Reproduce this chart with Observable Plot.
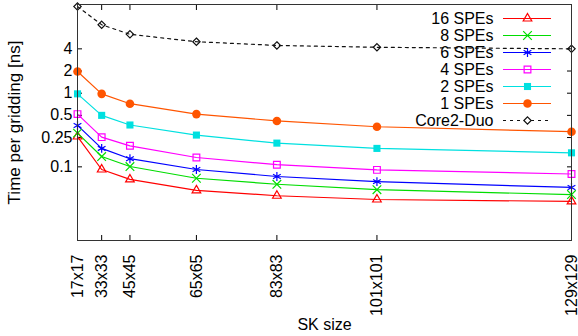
<!DOCTYPE html>
<html><head><meta charset="utf-8">
<script src="https://cdn.jsdelivr.net/npm/d3@7"></script>
<script src="https://cdn.jsdelivr.net/npm/@observablehq/plot@0.6"></script>
<style>
html,body{margin:0;padding:0;background:#fff;}
#wrap{position:relative;width:578px;height:336px;}
#legend{position:absolute;left:400px;top:0;}
</style></head><body><div id="wrap"><div id="main"></div><div id="legend"></div></div>
<script>
// ---- data ----
const sizes = [17, 33, 45, 65, 83, 101, 129];
const seriesNames = ["16 SPEs", "8 SPEs", "6 SPEs", "4 SPEs", "2 SPEs", "1 SPEs", "Core2-Duo"];
const spe16 = [0.258, 0.092, 0.0675, 0.048, 0.0405, 0.036, 0.034];
const spe8  = [0.287, 0.138, 0.101, 0.070, 0.058, 0.049, 0.042];
const spe6  = [0.365, 0.178, 0.129, 0.092, 0.074, 0.063, 0.0525];
const spe4  = [0.52, 0.253, 0.193, 0.134, 0.107, 0.091, 0.080];
const spe2  = [0.98, 0.50, 0.37, 0.27, 0.21, 0.178, 0.155];
const spe1  = [1.97, 0.98, 0.72, 0.52, 0.42, 0.35, 0.30];
const core2 = [15.0, 8.5, 6.3, 5.0, 4.45, 4.2, 4.0];
const yTicks = [0.1, 0.25, 0.5, 1, 2, 4];
const yTickLabels = ["0.1", "0.25", "0.5", "1", "2", "4"];

// ---- styles ----
const seriesValues = [spe16, spe8, spe6, spe4, spe2, spe1, core2];
const styles = [
  {color: "#ff0000", symbol: "triangle", r: 3.2, filled: false},
  {color: "#00dd00", symbol: "times", r: 4, filled: false},
  {color: "#0000ff", symbol: "asterisk", r: 4.2, filled: false},
  {color: "#ff00ff", symbol: "square", r: 3.8, filled: false},
  {color: "#00e0e0", symbol: "square", r: 4, filled: true},
  {color: "#ff5500", symbol: "circle", r: 4.3, filled: true},
  {color: "#111111", symbol: "diamond2", r: 3.3, filled: false, dash: "3,4"}
];
const font = "'Liberation Sans', Arial, Helvetica, sans-serif";

const rows = [];
seriesNames.forEach((name, i) => sizes.forEach((s, j) => rows.push({series: name, size: s, value: seriesValues[i][j]})));

const marks = [];
seriesNames.forEach((name, i) => {
  const st = styles[i];
  const d = rows.filter(r => r.series === name);
  marks.push(Plot.line(d, {x: "size", y: "value", stroke: st.color, strokeWidth: 1.2, strokeDasharray: st.dash}));
});
seriesNames.forEach((name, i) => {
  const st = styles[i];
  const d = rows.filter(r => r.series === name);
  marks.push(Plot.dot(d, {x: "size", y: "value", symbol: st.symbol, r: st.r,
    stroke: st.filled ? "none" : st.color, fill: st.filled ? st.color : "none", strokeWidth: 1.2}));
});

const main = Plot.plot({
  width: 578, height: 336,
  marginLeft: 77, marginRight: 7, marginTop: 4, marginBottom: 96,
  style: {fontFamily: font, fontSize: "16px", color: "#000", background: "#fff"},
  x: {type: "pow", exponent: 2, domain: [17, 129]},
  y: {type: "log", domain: [0.01, 16]},
  marks: [
    Plot.axisX({anchor: "bottom", ticks: sizes, tickSize: 0, tickPadding: 14, tickRotate: -90,
      tickFormat: d => `${d}x${d}`, label: "SK size", labelAnchor: "center", labelOffset: 89, labelArrow: "none"}),
    Plot.axisX({anchor: "bottom", ticks: sizes, tickSize: -5, tickFormat: () => "", label: null}),
    Plot.axisX({anchor: "top", ticks: sizes, tickSize: -5, tickFormat: () => "", label: null}),
    Plot.axisY({anchor: "left", ticks: yTicks, tickSize: -5, tickFormat: () => "",
      label: "Time per gridding [ns]", labelAnchor: "center", labelOffset: 70, labelArrow: "none", fontSize: "17px"}),
    Plot.axisY({anchor: "right", ticks: yTicks, tickSize: -5, tickFormat: () => "", label: null}),
    Plot.text(yTicks, {y: d => d, frameAnchor: "left", dx: -5, textAnchor: "end",
      text: (d, i) => yTickLabels[i], fill: "#000"}),
    ...marks,
    Plot.frame({stroke: "#333", strokeWidth: 1})
  ]
});
document.getElementById("main").appendChild(main);

// ---- legend ----
const legendMarks = [];
seriesNames.forEach((name, i) => {
  const st = styles[i];
  legendMarks.push(Plot.ruleY([name], {y: d => d, x1: 0, x2: 1, stroke: st.color, strokeWidth: 1.2, strokeDasharray: st.dash}));
  legendMarks.push(Plot.dot([name], {y: d => d, x: 0.5, symbol: st.symbol, r: st.r,
    stroke: st.filled ? "none" : st.color, fill: st.filled ? st.color : (st.dash ? "#fff" : "none"), strokeWidth: 1.2}));
});
legendMarks.push(Plot.text(seriesNames, {y: d => d, x: 0, dx: -10, text: d => d, textAnchor: "end", fill: "#000"}));
const legend = Plot.plot({
  width: 172, height: 136, margin: 0,
  style: {fontFamily: font, fontSize: "16px", background: "transparent", overflow: "visible"},
  x: {domain: [0, 1], range: [103, 151], axis: null},
  y: {type: "point", domain: seriesNames, range: [17, 121], padding: 0, axis: null},
  marks: legendMarks
});
document.getElementById("legend").appendChild(legend);
</script></body></html>
